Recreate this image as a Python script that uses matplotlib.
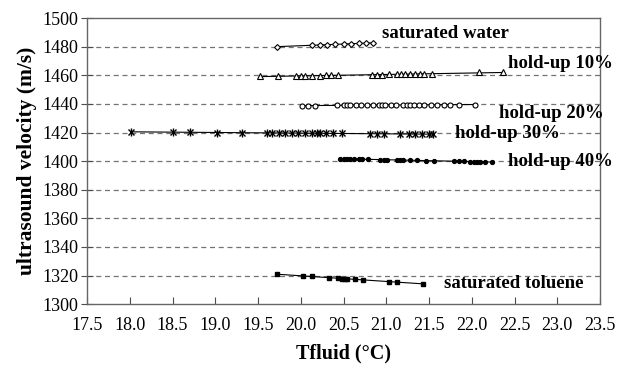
import numpy as np
import matplotlib
matplotlib.use("Agg")
import matplotlib.pyplot as plt

plt.rcParams["font.family"] = ["Liberation Serif", "DejaVu Serif"]

# saturated water (open diamonds)
water_t = [19.72, 20.13, 20.22, 20.31, 20.40, 20.50, 20.59, 20.68, 20.76, 20.85]
water_v = [1480.0, 1481.0, 1481.3, 1481.5, 1481.7, 1481.9, 1482.1, 1482.3, 1482.5, 1482.7]

# hold-up 10% (open triangles)
h10_t = [19.52, 19.73, 19.94, 20.00, 20.05, 20.13, 20.23, 20.29, 20.35, 20.43,
         20.83, 20.89, 20.95, 21.03, 21.13, 21.17, 21.22, 21.28, 21.34, 21.40,
         21.44, 21.54, 22.08, 22.36]
h10_v = [1459.3, 1459.4, 1459.6, 1459.6, 1459.7, 1459.7, 1459.8, 1459.9, 1459.9, 1460.0,
         1460.4, 1460.4, 1460.5, 1460.6, 1460.7, 1460.7, 1460.8, 1460.8, 1460.9, 1460.9,
         1461.0, 1461.1, 1462.0, 1462.2]

# hold-up 20% (open circles)
h20_t = [20.01, 20.09, 20.17, 20.42, 20.50, 20.54, 20.58, 20.64, 20.70, 20.78,
         20.85, 20.91, 20.95, 20.99, 21.05, 21.11, 21.20, 21.24, 21.28, 21.32,
         21.38, 21.44, 21.52, 21.59, 21.67, 21.75, 21.85, 22.04]
h20_v = [1438.8, 1438.8, 1438.9, 1439.0, 1439.0, 1439.0, 1439.0, 1439.1, 1439.1, 1439.1,
         1439.1, 1439.2, 1439.2, 1439.2, 1439.2, 1439.3, 1439.4, 1439.5, 1439.4, 1439.3,
         1439.3, 1439.3, 1439.4, 1439.4, 1439.4, 1439.4, 1439.5, 1439.6]

# hold-up 30% (asterisks)
h30_t = [18.01, 18.51, 18.71, 19.02, 19.31, 19.60, 19.66, 19.74, 19.82, 19.90,
         19.97, 20.05, 20.13, 20.19, 20.23, 20.29, 20.38, 20.48, 20.81, 20.89,
         20.97, 21.16, 21.26, 21.34, 21.42, 21.50, 21.55]
h30_v = [1420.3, 1420.2, 1420.1, 1420.0, 1420.0, 1419.8, 1419.8, 1419.8, 1419.7, 1419.7,
         1419.6, 1419.6, 1419.6, 1419.5, 1419.5, 1419.5, 1419.4, 1419.4, 1419.2, 1419.1,
         1419.1, 1419.0, 1418.9, 1418.9, 1418.8, 1418.8, 1418.8]

# hold-up 40% (filled circles)
h40_t = [20.46, 20.50, 20.54, 20.58, 20.62, 20.68, 20.72, 20.79, 20.93, 20.97,
         21.01, 21.13, 21.16, 21.20, 21.28, 21.36, 21.46, 21.56, 21.79, 21.85,
         21.91, 21.98, 22.02, 22.06, 22.10, 22.16, 22.24]
h40_v = [1401.7, 1401.6, 1401.6, 1401.5, 1401.5, 1401.4, 1401.3, 1401.3, 1401.1, 1401.0,
         1401.0, 1400.8, 1400.8, 1400.7, 1400.6, 1400.5, 1400.4, 1400.3, 1399.9, 1399.8,
         1399.8, 1399.7, 1399.7, 1399.6, 1399.6, 1399.5, 1399.4]

# saturated toluene (filled squares)
tol_t = [19.72, 20.03, 20.13, 20.33, 20.43, 20.48, 20.52, 20.54, 20.63, 20.73,
         21.03, 21.13, 21.43]
tol_v = [1321.0, 1319.5, 1319.4, 1318.6, 1318.1, 1317.9, 1317.8, 1317.6, 1317.4, 1317.1,
         1315.6, 1315.4, 1314.2]

labels = ["saturated water", "hold-up 10%", "hold-up 20%", "hold-up 30%",
          "hold-up 40%", "saturated toluene"]
label_pos = [(20.95, 1489.0), (22.42, 1468.0), (22.32, 1433.0), (21.80, 1419.3),
             (22.42, 1400.0), (21.68, 1314.6)]

x_ticks = np.arange(17.5, 23.51, 0.5)
y_ticks = np.arange(1300, 1501, 20)

fig = plt.figure(figsize=(6.35, 3.70), dpi=100)
ax = fig.add_axes([0.137, 0.178, 0.808, 0.773])

# dashed grid, not on the frame lines
for y in y_ticks[1:-1]:
    ax.axhline(y, color="0.45", lw=0.9, ls=(0, (4, 3)), zorder=0)

# linear trend line over each series' range
series = [(water_t, water_v), (h10_t, h10_v), (h20_t, h20_v),
          (h30_t, h30_v), (h40_t, h40_v), (tol_t, tol_v)]
for t, v in series:
    t = np.array(t)
    p = np.polyfit(t, v, 1)
    xs = np.array([t.min(), t.max()])
    ax.plot(xs, np.polyval(p, xs), color="black", lw=0.8, zorder=2)

ms = dict(color="black", ls="none", zorder=3)
ax.plot(water_t, water_v, marker="D", ms=3.0, mfc="white", mew=0.8, **ms)
ax.plot(h10_t, h10_v, marker="^", ms=4.2, mfc="white", mew=0.8, **ms)
ax.plot(h20_t, h20_v, marker="o", ms=3.6, mfc="white", mew=0.8, **ms)
ax.plot(h30_t, h30_v, marker="x", ms=4.2, mew=1.0, **ms)   # asterisk = x + |
ax.plot(h30_t, h30_v, marker="|", ms=5.2, mew=1.0, **ms)
ax.plot(h40_t, h40_v, marker="o", ms=2.8, **ms)
ax.plot(tol_t, tol_v, marker="s", ms=2.8, **ms)

for text, (tx, ty) in zip(labels, label_pos):
    ax.text(tx, ty, text, fontsize=13.5, fontweight="bold", va="center", ha="left", zorder=4)

ax.set_xlim(17.5, 23.5)
ax.set_ylim(1300, 1500)
ax.set_xticks(x_ticks)
ax.set_xticklabels([f"{x:.1f}" for x in x_ticks])
ax.set_yticks(y_ticks)
ax.tick_params(axis="y", direction="inout", length=8, width=0.8, labelsize=13, pad=2,
               colors="0.3", labelcolor="black")
ax.tick_params(axis="x", direction="in", length=5, width=0.8, labelsize=13, pad=9,
               colors="0.3", labelcolor="black")
for s in ax.spines.values():
    s.set_color("0.4")
    s.set_linewidth(1.0)

ax.set_xlabel("Tfluid (°C)", fontsize=14.5, fontweight="bold", labelpad=7)
ax.set_ylabel("ultrasound velocity (m/s)", fontsize=15.5, fontweight="bold", labelpad=4)

fig.savefig("out.png", dpi=100)
